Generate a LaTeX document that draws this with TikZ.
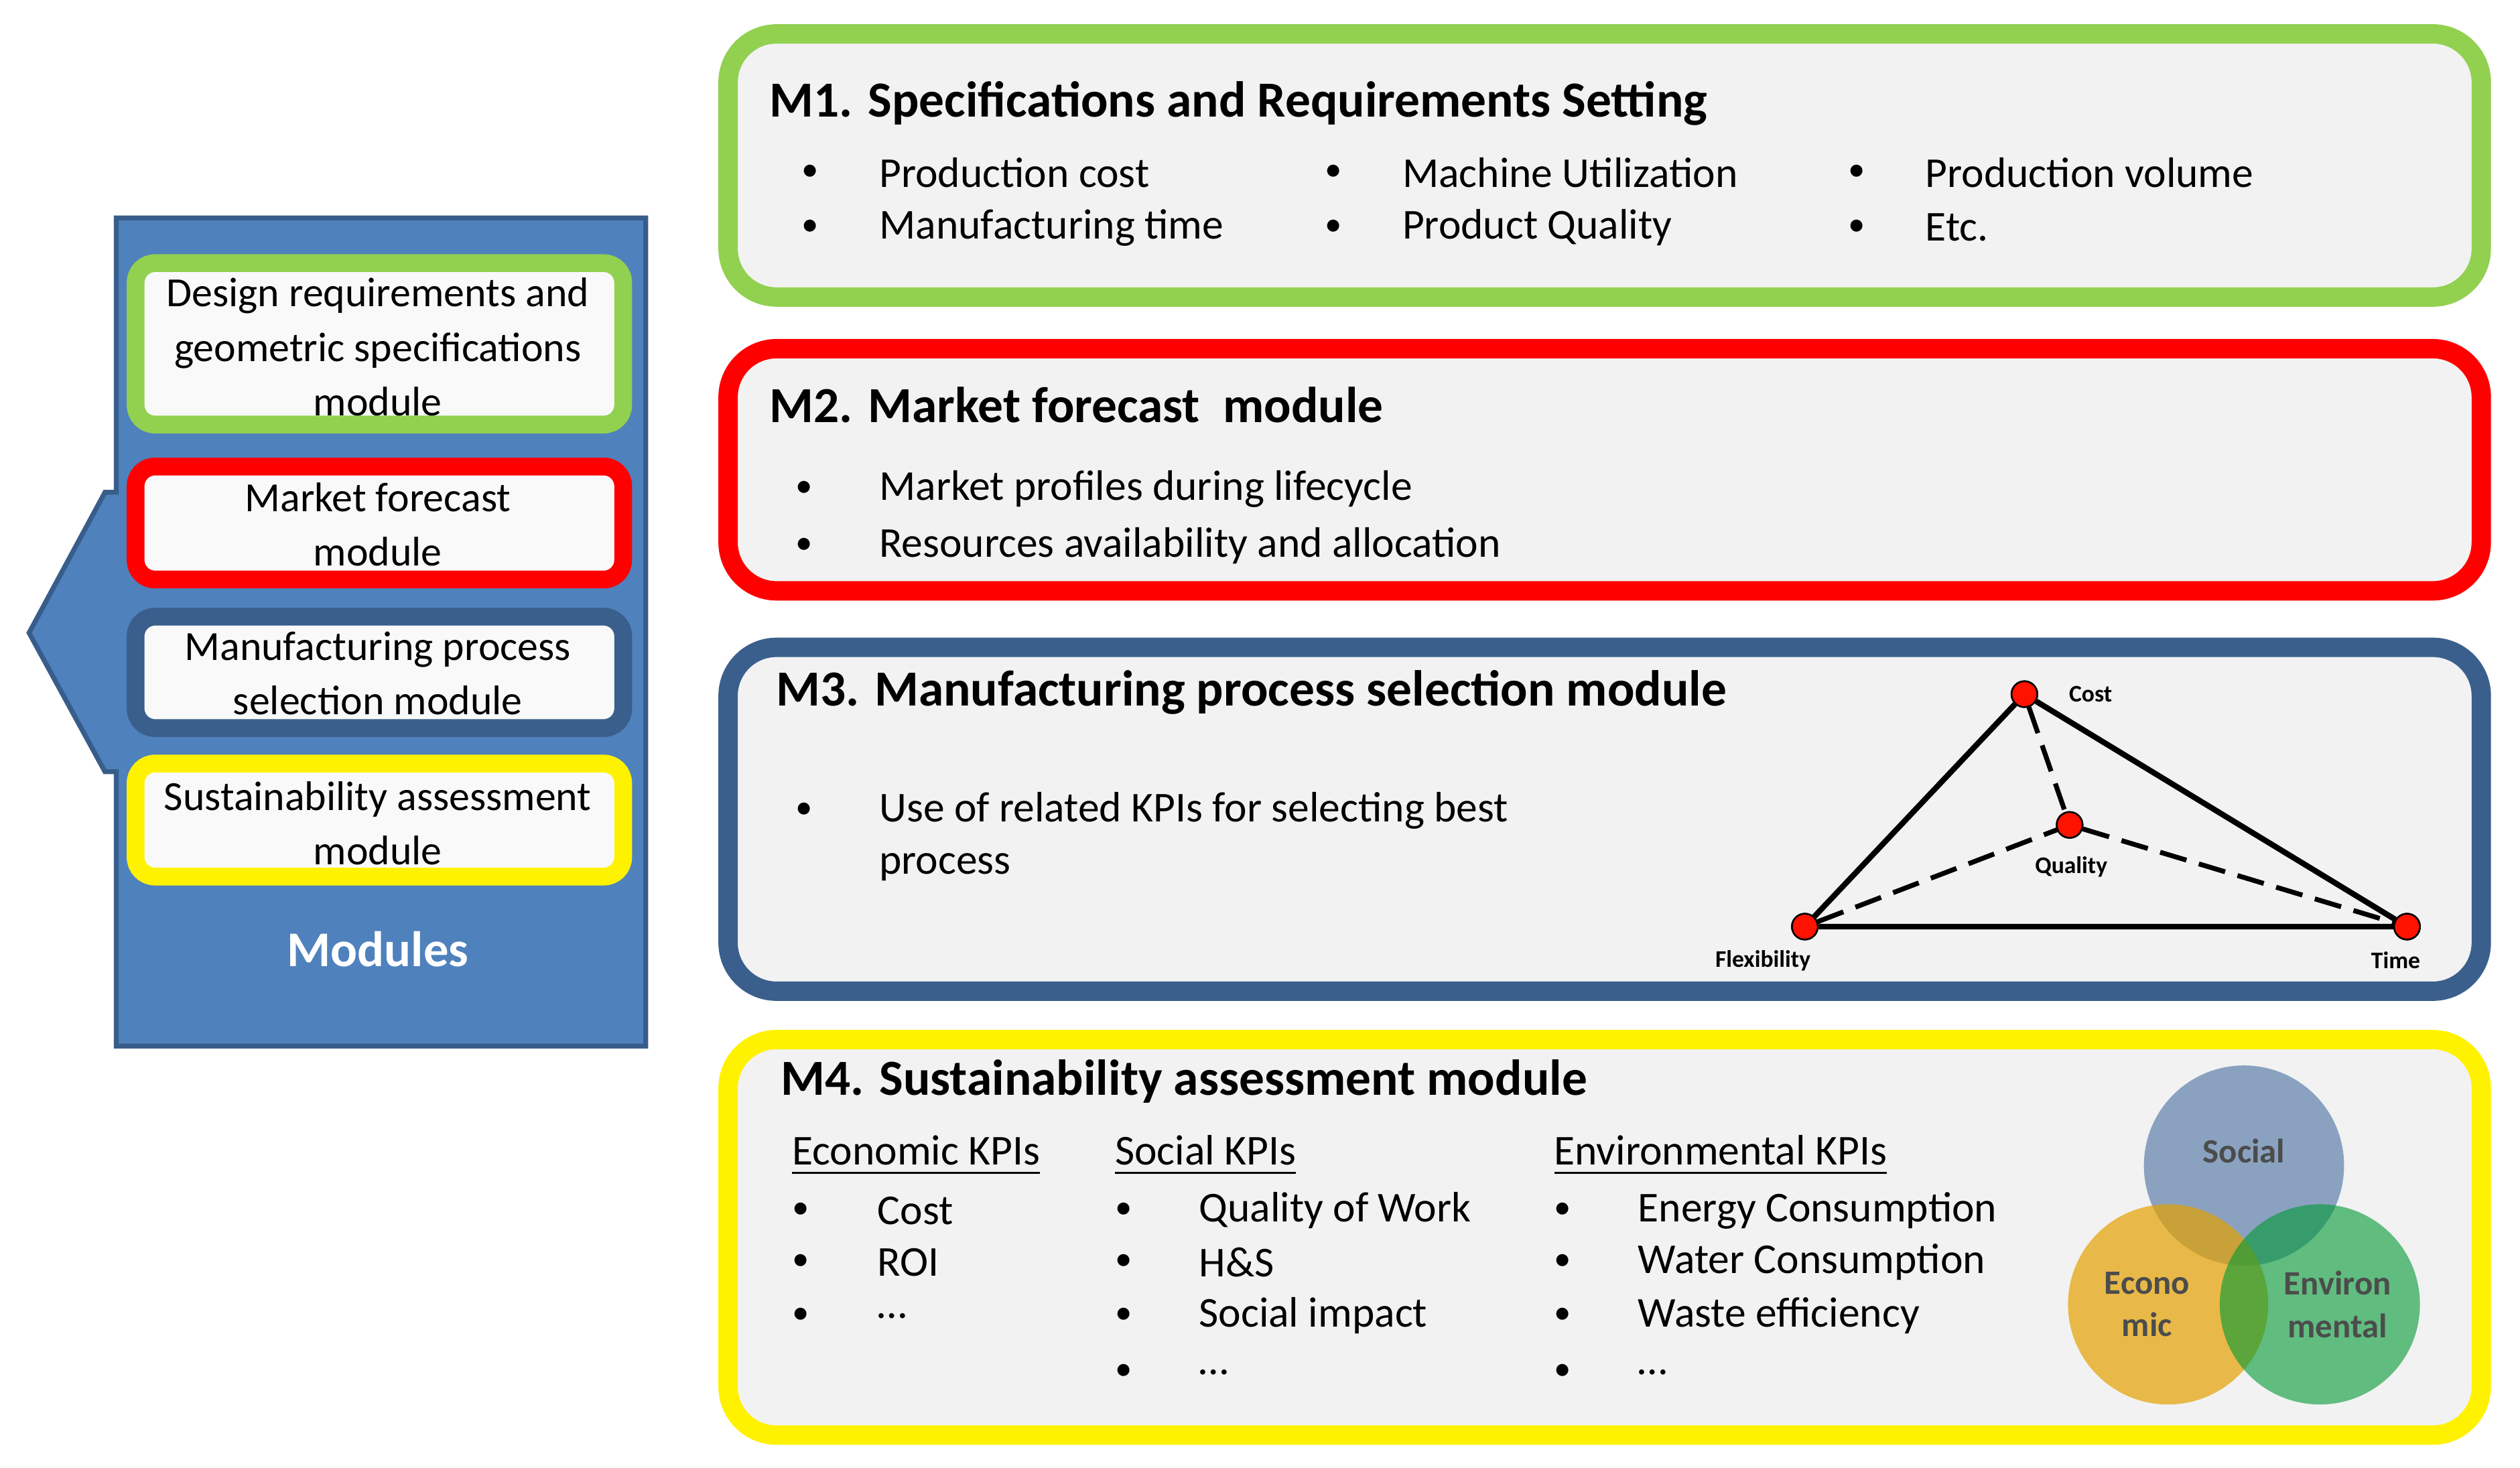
\documentclass[tikz,border=0pt]{standalone}
\usepackage{fontspec}
\setmainfont{Carlito}
\begin{document}
\begin{tikzpicture}[x=0.01cm,y=-0.01cm,
  big/.style={line width=0.12cm,rounded corners=0.3cm,fill=gray!10},
  small/.style={line width=0.11cm,rounded corners=0.12cm},
  txt/.style={font=\fontsize{7.5}{8.5}\selectfont,anchor=west,inner sep=0},
  ttl/.style={font=\bfseries\fontsize{8.9}{10}\selectfont,anchor=west,inner sep=0},
  lbl/.style={font=\bfseries\fontsize{4.2}{5}\selectfont,inner sep=0},
  dot/.style={circle,fill=red!85!orange,draw=black,line width=0.3pt,minimum size=0.16cm,inner sep=0}]
\definecolor{gr}{HTML}{92D050}\definecolor{db}{HTML}{3A5F8C}
\definecolor{pb}{HTML}{4F81BD}\definecolor{pbd}{HTML}{385D8A}
\useasboundingbox (0,0) rectangle (1561,909);
\newcommand\bul{{\fontsize{6}{6}\selectfont\textbullet}}
% left panel with arrow
\path[fill=pb,draw=pbd,line width=0.03cm] (72,135) -- (400,135) -- (400,648) -- (72,648) -- (72,478) -- (65,478) -- (18,392) -- (65,305) -- (72,305) -- cycle;
\draw[small,draw=gr,fill=white!95!gray] (84,163) rectangle (386,263);
\draw[small,draw=red,fill=white!95!gray] (84,289) rectangle (386,359);
\draw[small,draw=db,fill=white!95!gray] (84,382) rectangle (386,451);
\draw[small,draw=yellow,fill=white!95!gray] (84,473) rectangle (386,543);
\node[font=\fontsize{7.3}{9.6}\selectfont,align=center] (s1) at (234,215) {Design requirements and\\geometric specifications\\module};
\node[font=\fontsize{7.3}{9.6}\selectfont,align=center] (s2) at (234,325) {Market forecast\\module};
\node[font=\fontsize{7.3}{9.6}\selectfont,align=center] (s3) at (234,417) {Manufacturing process\\selection module};
\node[font=\fontsize{7.3}{9.6}\selectfont,align=center] (s4) at (234,510) {Sustainability assessment\\module};
\node[font=\bfseries\fontsize{8.8}{10}\selectfont,text=white] (mod) at (234,588) {Modules};
% M1
\draw[big,draw=gr] (451,21) rectangle (1537,184);
\node[ttl] (t1) at (476,64) {M1. Specifications and Requirements Setting};
\foreach \x/\a/\b in {496/Production cost/Manufacturing time,820/Machine Utilization/Product Quality,1144/Production volume/Etc.}{
 \node[txt] at (\x,107) {\bul}; \node[txt] at (\x+48,107) {\a};
 \node[txt] at (\x,141) {\bul}; \node[txt] at (\x+48,141) {\b};}
% M2
\draw[big,draw=red] (451,216) rectangle (1537,366);
\node[ttl] (t2) at (476,251) {M2. Market forecast\ \ module};
\node[txt] at (492,303) {\bul}; \node[txt] at (544,303) {Market profiles during lifecycle};
\node[txt] at (492,338) {\bul}; \node[txt] at (544,338) {Resources availability and allocation};
% M3
\draw[big,draw=db] (451,401) rectangle (1537,614);
\node[ttl] (t3) at (480,429) {M3. Manufacturing process selection module};
\node[txt] at (492,502) {\bul}; \node[txt] at (544,502) {Use of related KPIs for selecting best};
\node[txt] at (544,537) {process};
\node[dot] (c) at (1254,430) {}; \node[dot] (q) at (1282,511) {};
\node[dot] (f) at (1118,574) {}; \node[dot] (t) at (1491,574) {};
\draw[line width=0.035cm] (c) -- (t) -- (f) -- (c);
\draw[line width=0.03cm,dash pattern=on 0.17cm off 0.08cm] (c) -- (q) (f) -- (q) -- (t);
\node[dot] at (c) {}; \node[dot] at (q) {}; \node[dot] at (f) {}; \node[dot] at (t) {};
\node[lbl,anchor=west] at (1281,430) {Cost};
\node[lbl] at (1283,537) {Quality};
\node[lbl] at (1092,595) {Flexibility};
\node[lbl] at (1484,595) {Time};
% M4
\draw[big,draw=yellow] (451,644) rectangle (1537,889);
\node[ttl] (t4) at (483,670) {M4. Sustainability assessment module};
\node[txt] at (490,716) {\underline{Economic KPIs}};
\node[txt] at (690,716) {\underline{Social KPIs}};
\node[txt] at (962,716) {\underline{Environmental KPIs}};
\foreach \y/\a/\b/\c in {750/Cost/Quality of Work/Energy Consumption,782/ROI/H\&S/Water Consumption,815/…/Social impact/Waste efficiency}{
 \node[txt] at (490,\y) {\bul}; \node[txt] at (543,\y) {\a};
 \node[txt] at (690,\y) {\bul}; \node[txt] at (742,\y) {\b};
 \node[txt] at (962,\y) {\bul}; \node[txt] at (1014,\y) {\c};}
\node[txt] at (690,850) {\bul}; \node[txt] at (742,850) {…};
\node[txt] at (962,850) {\bul}; \node[txt] at (1014,850) {…};
% Venn
\fill[fill=pb!70!gray,opacity=0.7] (1390,722) circle (62);
\fill[fill=orange!60!yellow!90!black,opacity=0.7] (1343,808) circle (62);
\fill[fill=green!50!teal!80!black,opacity=0.6] (1437,808) circle (62);
\node[font=\bfseries\fontsize{6}{6.5}\selectfont,text=black!70] at (1390,713) {Social};
\node[font=\bfseries\fontsize{6}{7.5}\selectfont,text=black!70,align=center] at (1330,808) {Econo\\mic};
\node[font=\bfseries\fontsize{6}{7.5}\selectfont,text=black!70,align=center] at (1448,808) {Environ\\mental};
\end{tikzpicture}
\end{document}
